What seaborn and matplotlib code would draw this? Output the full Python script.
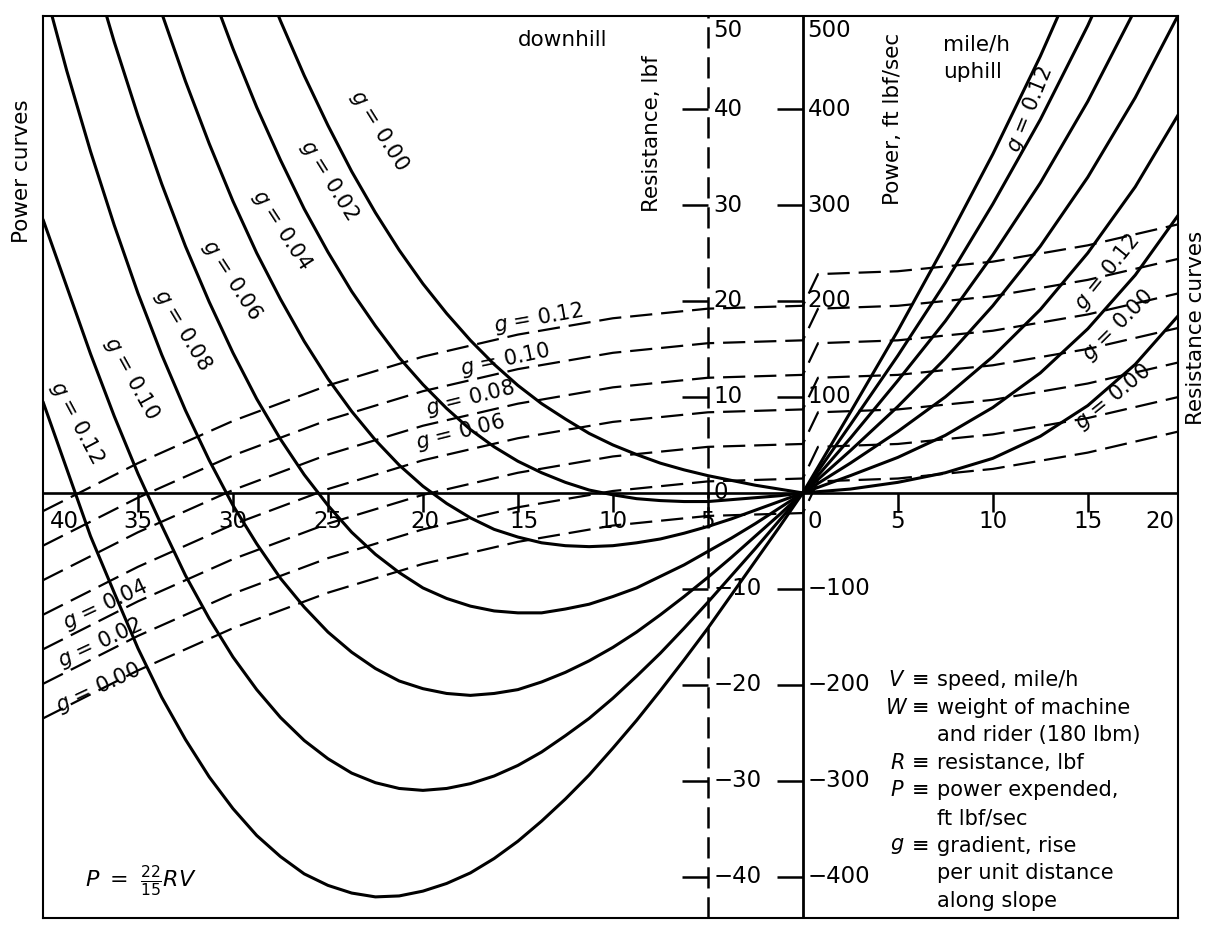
import pandas as pd
import matplotlib.pyplot as plt
import seaborn as sns

sns.set_style('white')
plt.rcParams['font.family'] = ['DejaVu Sans']
plt.rcParams['text.color'] = 'black'
plt.rcParams['mathtext.fontset'] = 'dejavusans'

W, H = 1215, 927

gradients = ['0.00', '0.02', '0.04', '0.06', '0.08', '0.10', '0.12']

# speed in mile/h, negative = downhill
speed_power = [-40, -38.75, -37.5, -36.25, -35, -33.75, -32.5, -31.25, -30, -28.75, -27.5,
               -26.25, -25, -23.75, -22.5, -21.25, -20, -18.75, -17.5, -16.25, -15, -13.75,
               -12.5, -11.25, -10, -8.75, -7.5, -6.25, -5, -3.75, -2.5, -1.25, 0,
               2.5, 5, 7.5, 10, 12.5, 15, 17.5, 20]

# power curves, ft lbf/sec
power_000 = [1376, 1259, 1148, 1044, 947, 857, 772, 694, 621, 554, 492, 435, 383, 335, 292,
             253, 218, 187, 159, 134, 112, 93, 77, 62, 50, 40, 31, 24, 18, 13, 8, 4, 0,
             4, 11, 21, 36, 59, 91, 134, 190]
power_002 = [1165, 1054, 950, 853, 763, 679, 601, 529, 463, 402, 347, 296, 251, 210, 174,
             141, 113, 88, 66, 48, 33, 21, 11, 3, -2, -6, -8, -9, -9, -7, -5, -3, 0,
             18, 37, 60, 89, 125, 171, 227, 296]
power_004 = [954, 849, 752, 662, 578, 500, 429, 364, 304, 250, 202, 158, 119, 85, 55,
             29, 7, -11, -26, -38, -46, -52, -55, -56, -55, -52, -48, -42, -35, -27, -18, -9, 0,
             31, 64, 100, 142, 191, 250, 319, 402]
power_006 = [743, 645, 554, 470, 393, 322, 257, 199, 146, 98, 56, 19, -13, -41, -64,
             -83, -99, -110, -118, -123, -125, -125, -121, -116, -108, -99, -87, -75, -61, -47,
             -32, -16, 0,
             44, 90, 140, 195, 257, 329, 412, 507]
power_008 = [532, 440, 356, 279, 208, 144, 86, 34, -13, -53, -89, -119, -145, -166, -183,
             -196, -204, -209, -211, -209, -205, -197, -187, -175, -161, -145, -127, -108, -88,
             -67, -45, -23, 0,
             57, 117, 179, 248, 323, 408, 504, 613]
power_010 = [285, 215, 145, 80, 20, -34, -86, -131, -171, -205, -234, -258, -277, -292, -302,
             -308, -310, -308, -303, -295, -284, -270, -253, -235, -214, -191, -167, -141, -114,
             -86, -58, -29, 0,
             71, 143, 219, 301, 389, 487, 596, 718]
power_012 = [95, 25, -45, -104, -162, -213, -257, -296, -329, -357, -379, -397, -409, -417, -421,
             -420, -415, -407, -396, -381, -363, -342, -319, -294, -266, -237, -206, -174, -141,
             -106, -71, -36, 0,
             84, 169, 259, 353, 455, 567, 689, 824]

# resistance curves, lbf
speed_res = [-40, -35, -30, -25, -20, -15, -10, -5, 0, 0.8, 5, 10, 15, 20]
res_000 = [-23.5, -18.5, -14.1, -10.4, -7.4, -5.1, -3.4, -2.4, -2.1, 1.2, 1.5, 2.5, 4.2, 6.5]
res_002 = [-19.9, -14.9, -10.5, -6.8, -3.8, -1.5, 0.2, 1.2, 1.5, 4.8, 5.1, 6.1, 7.8, 10.1]
res_004 = [-16.3, -11.3, -6.9, -3.2, -0.2, 2.1, 3.8, 4.8, 5.1, 8.4, 8.7, 9.7, 11.4, 13.7]
res_006 = [-12.7, -7.7, -3.3, 0.4, 3.4, 5.7, 7.4, 8.4, 8.7, 12.0, 12.3, 13.3, 15.0, 17.3]
res_008 = [-9.1, -4.1, 0.3, 4.0, 7.0, 9.3, 11.0, 12.0, 12.3, 15.6, 15.9, 16.9, 18.6, 20.9]
res_010 = [-5.5, -0.5, 3.9, 7.6, 10.6, 12.9, 14.6, 15.6, 15.9, 19.2, 19.5, 20.5, 22.2, 24.5]
res_012 = [-1.9, 3.1, 7.5, 11.2, 14.2, 16.5, 18.2, 19.2, 19.5, 22.8, 23.1, 24.1, 25.8, 28.1]

speed_ticks = [-35, -30, -25, -20, -15, -10, -5, 5, 10, 15]
speed_labels = ['40', '35', '30', '25', '20', '15', '10', '5', '0', '5', '10', '15', '20']
speed_label_pos = [-38.9, -35, -30, -25, -19.9, -14.7, -10, -5, 0.65, 5, 10, 15, 18.8]
res_ticks = [40, 30, 20, 10, -10, -20, -30, -40]
power_ticks = [400, 300, 200, 100, -100, -200, -300, -400]

power_sets = [power_000, power_002, power_004, power_006, power_008, power_010, power_012]
res_sets = [res_000, res_002, res_004, res_006, res_008, res_010, res_012]

power_df = pd.concat([pd.DataFrame({'speed': speed_power, 'power': p, 'g': g})
                      for g, p in zip(gradients, power_sets)], ignore_index=True)
res_df = pd.concat([pd.DataFrame({'speed': speed_res, 'resistance': r, 'g': g})
                    for g, r in zip(gradients, res_sets)], ignore_index=True)

fig = plt.figure(figsize=(12.15, 9.27), dpi=100)
ax = fig.add_axes([43 / W, 1 - 918 / H, 1135 / W, 902 / H])
ax2 = ax.twinx()
ax.set_xlim(-40, 19.75)
ax.set_ylim(-44.3, 49.7)
ax2.set_ylim(-443, 497)
ax2.axis('off')

# resistance curves (dashed)
sns.lineplot(data=res_df, x='speed', y='resistance', style='g', dashes=[(10, 4)] * 7,
             estimator=None, sort=False, color='black', lw=1.6, legend=False, ax=ax)
# power curves (solid)
sns.lineplot(data=power_df, x='speed', y='power', units='g', estimator=None, sort=False,
             color='black', lw=2.2, legend=False, ax=ax2)

# axes lines
ax.axhline(0, color='black', lw=1.9)
ax.axvline(0, color='black', lw=2.0)
ax.axvline(-5, color='black', lw=1.8, ls=(0, (8.5, 3.5)))
ax.vlines(speed_ticks, -2.0, 0, color='black', lw=1.8)
ax.hlines(res_ticks, -6.35, -5, color='black', lw=1.8)
ax2.hlines(power_ticks, -1.35, 0, color='black', lw=1.8)

for sp in ax.spines.values():
    sp.set_visible(True)
    sp.set_color('black')
    sp.set_linewidth(1.5)
ax.set_xticks([])
ax.set_yticks([])
ax.set_xlabel('')
ax.set_ylabel('')

fs = 16.5
for xp, lab in zip(speed_label_pos, speed_labels):
    ax.text(xp, -3.0, lab, ha='center', va='center', fontsize=fs)
for t in res_ticks:
    ax.text(-4.7, t, f'{t}'.replace('-', '\u2212'), ha='left', va='center', fontsize=fs)
for t in power_ticks:
    ax2.text(0.25, t, f'{t}'.replace('-', '\u2212'), ha='left', va='center', fontsize=fs)
ax.text(-4.7, 0, '0', ha='left', va='center', fontsize=fs)
ax.text(-4.7, 49.4, '50', ha='left', va='top', fontsize=fs)
ax2.text(0.25, 494, '500', ha='left', va='top', fontsize=fs)


def put(x, y, s, **kw):
    fig.text(x / W, 1 - y / H, s, **kw)


put(607, 40, 'downhill', ha='right', va='center', fontsize=15.5)
put(943, 45, 'mile/h', ha='left', va='center', fontsize=15.5)
put(943, 72, 'uphill', ha='left', va='center', fontsize=15.5)
put(652, 55, 'Resistance, lbf', rotation=90, ha='center', va='top', fontsize=15.5)
put(893, 33, 'Power, ft lbf/sec', rotation=90, ha='center', va='top', fontsize=15.5)
put(22, 243, 'Power curves', rotation=90, ha='center', va='bottom', fontsize=15.5)
put(1196, 328, 'Resistance curves', rotation=90, ha='center', va='center', fontsize=15.5)
put(85, 881, r'$P\ =\ \frac{22}{15}RV$', ha='left', va='center', fontsize=16)

# curve labels
lab_fs = 15
power_label_xy = [(379, 130, -58), (329, 180, -58), (282, 230, -57), (232, 280, -57),
                  (183, 330, -59), (132, 378, -61), (77, 422, -62)]
for g, (x, y, rot) in zip(gradients, power_label_xy):
    put(x, y, f'$g$ = {g}', rotation=rot, ha='center', va='center', fontsize=lab_fs)

for g, x, y, rot in [('0.12', 538, 318, 10), ('0.10', 505, 360, 12), ('0.08', 470, 398, 14),
                     ('0.06', 460, 432, 14), ('0.04', 105, 605, 25), ('0.02', 100, 643, 25),
                     ('0.00', 98, 688, 25)]:
    put(x, y, f'$g$ = {g}', rotation=rot, ha='center', va='center', fontsize=lab_fs,
        rotation_mode='anchor')

for g, x, y, rot in [('0.12', 1030, 110, 68), ('0.12', 1107, 272, 51),
                     ('0.00', 1118, 325, 45), ('0.00', 1113, 397, 39)]:
    put(x, y, f'$g$ = {g}', rotation=rot, ha='center', va='center', fontsize=lab_fs,
        rotation_mode='anchor')

# definitions
leg_fs = 15
symbols = [('$V$', 680), ('$W$', 708), ('$R$', 763), ('$P$', 790), ('$g$', 846)]
for s, y in symbols:
    put(897, y, s, ha='center', va='center', fontsize=leg_fs)
    put(921, y, '\u2261', ha='center', va='center', fontsize=leg_fs)
lines = ['speed, mile/h', 'weight of machine', 'and rider (180 lbm)', 'resistance, lbf',
         'power expended,', 'ft lbf/sec', 'gradient, rise', 'per unit distance', 'along slope']
for i, t in enumerate(lines):
    put(937, 680 + i * 27.6, t, ha='left', va='center', fontsize=leg_fs)

fig.savefig('out.png', dpi=100, facecolor='white')
